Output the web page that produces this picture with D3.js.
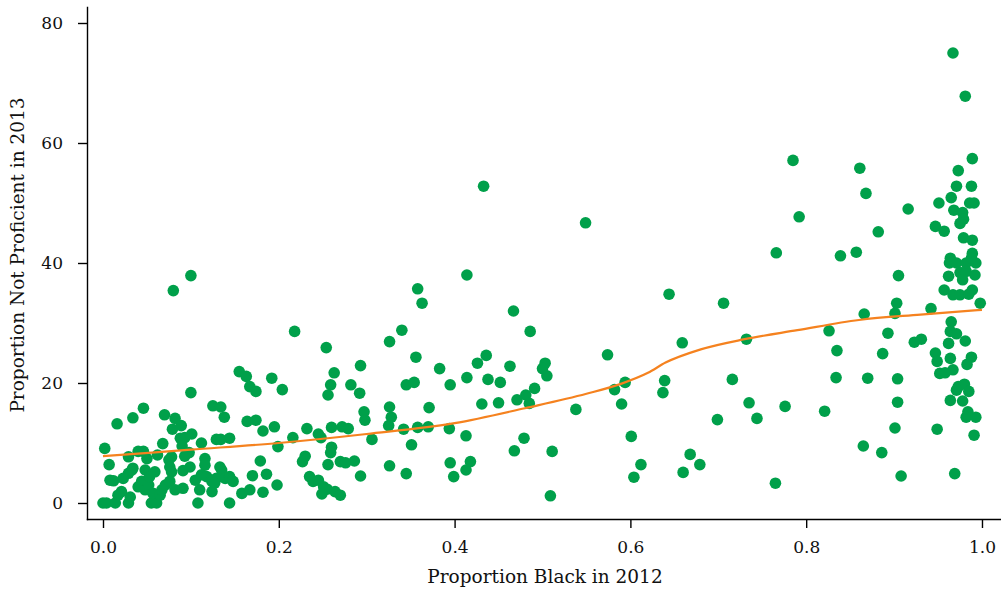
<!doctype html>
<html>
<head>
<style>
body {margin: 0; background: white;}
.axis text {font-family: 'DejaVu Serif', serif; font-size: 17px; fill: #111;}
.axis path, .axis line {stroke: #000; stroke-width: 1.4;}
</style>
<script src="https://d3js.org/d3.v7.min.js"></script>
</head>
<body>
<svg width="1001" height="589" class="chart"></svg>
<script>

// proportion black (2012) and proportion not proficient (2013), one school per index
var propBlack = [
  // mostly black schools
  0.967,0.981,0.989,0.785,0.861,0.973,0.868,0.971,0.988,0.965,
  0.986,0.991,0.951,0.916,0.968,0.978,0.979,0.975,0.792,0.947,
  0.957,0.882,0.979,0.989,0.839,0.857,0.766,0.989,0.964,0.963,
  0.971,0.982,0.993,0.988,0.975,0.982,0.992,0.962,0.978,0.905,
  0.957,0.967,0.975,0.985,0.989,0.998,0.903,0.901,0.942,0.866,
  0.965,0.826,0.893,0.964,0.971,0.923,0.931,0.962,0.981,0.835,
  0.887,0.947,0.949,0.964,0.988,0.983,0.967,0.952,0.958,0.834,
  0.870,0.904,0.973,0.980,0.985,0.971,0.964,0.978,0.904,0.821,
  0.984,0.982,0.993,0.991,0.901,0.949,0.865,0.886,0.908,0.969,
  0.776,0.765,
  // middle
  0.549,0.644,0.706,0.659,0.732,0.594,0.639,0.637,0.716,0.590,
  0.735,0.699,0.744,0.601,0.612,0.604,0.668,0.679,0.660,0.574,
  0.582,0.538,
  0.433,0.414,0.467,0.486,0.436,0.426,0.414,0.395,0.463,0.438,
  0.452,0.503,0.500,0.505,0.491,0.481,0.485,0.471,0.431,0.450,
  0.394,0.413,0.479,0.468,0.511,0.395,0.418,0.413,0.399,0.509,
  0.383,
  0.358,0.363,0.218,0.340,0.326,0.254,0.356,0.293,0.263,0.192,
  0.345,0.354,0.282,0.259,0.256,0.204,0.292,0.326,0.328,0.325,
  0.297,0.298,0.371,0.195,0.232,0.260,0.272,0.279,0.245,0.248,
  0.216,0.342,0.358,0.370,0.306,0.199,0.260,0.259,0.351,0.230,
  0.227,0.270,0.276,0.286,0.256,0.326,0.345,0.293,0.186,0.198,
  0.235,0.239,0.245,0.251,0.255,0.249,0.264,0.270,
  // mostly white schools
  0.100,0.080,0.155,0.163,0.167,0.174,0.100,0.125,0.134,0.046,
  0.138,0.070,0.082,0.034,0.016,0.164,0.174,0.089,0.079,0.182,
  0.101,0.093,0.088,0.129,0.134,0.144,0.112,0.068,0.002,0.090,
  0.040,0.046,0.062,0.098,0.093,0.029,0.078,0.075,0.116,0.050,
  0.179,0.007,0.116,0.133,0.099,0.091,0.034,0.029,0.048,0.059,
  0.170,0.076,0.078,0.033,0.023,
  0.008,0.012,0.000,0.004,0.014,0.021,0.017,0.029,0.031,0.040,
  0.044,0.048,0.052,0.053,0.055,0.061,0.057,0.065,0.067,0.071,
  0.076,0.082,0.091,0.108,0.110,0.105,0.112,0.118,0.124,0.129,
  0.135,0.124,0.127,0.139,0.144,0.148,0.144,0.158,0.167,0.182
];

var notProficient = [
  75,67.8,57.4,57.1,55.8,55.4,51.6,52.8,52.8,50.9,
  50,50,50,49,48.8,48.4,47.3,46.6,47.7,46.1,
  45.3,45.2,44.2,43.8,41.2,41.8,41.7,41.6,40.8,40,
  40,40,40,40.8,38.4,38.6,38,37.8,37.2,37.9,
  35.5,34.7,34.7,34.8,35.5,33.3,33.3,31.6,32.4,31.5,
  30.2,28.7,28.3,28.6,28.2,26.8,27.3,26.6,27,25.4,
  24.9,25,23.6,24.1,24.3,23.1,22.2,21.6,21.7,20.9,
  20.8,20.7,19.4,19.8,18.6,18.8,17.1,17,16.8,15.3,
  15.2,14.3,14.3,11.3,12.5,12.3,9.5,8.4,4.5,4.9,
  16.1,3.3,
  46.7,34.8,33.3,26.7,27.3,20.1,20.4,18.4,20.6,16.5,
  16.7,13.9,14.1,11.1,6.4,4.3,8.1,6.4,5.1,24.7,
  18.9,15.6,
  52.8,38,32,28.6,24.6,23.3,20.9,19.7,22.8,20.6,
  20.1,23.3,22.4,21.2,19.1,18,16.6,17.2,16.5,16.7,
  12.4,11.2,10.8,8.7,8.6,6.7,6.9,5.5,4.4,1.2,
  22.4,
  35.7,33.3,28.6,28.8,26.9,25.9,24.3,22.9,21.7,20.8,
  19.7,20.1,19.7,19.7,18,18.9,18.3,16,14.3,12.9,
  15.2,13.8,15.9,12.7,12.4,12.6,12.7,12.4,11.5,10.9,
  10.9,12.3,12.6,12.7,10.6,9.4,9.3,8.4,9.7,7.8,
  6.9,6.9,6.7,7,6.4,6.2,4.9,4.5,4.8,3,
  4.4,3.6,3.8,2.7,2.3,1.5,1.9,1.3,
  37.9,35.4,21.9,21.1,19.4,18.6,18.4,16.2,16,15.8,
  14.3,14.7,14.1,14.2,13.2,13.6,13.8,12.9,12.3,12,
  11.5,10.9,10.8,10.6,10.6,10.8,10,9.9,9.1,9.5,
  8.6,8.6,8,8.4,7.8,7.7,7.7,7.2,7.4,7.4,
  7,6.4,6.3,6,6,5.4,5.8,4.95,5.5,5.2,
  4.55,6,5.2,5.5,4.1,
  3.8,3.7,0,0,0,1.9,1.3,0,1,2.7,
  3.6,2.2,3,4.4,0,0,1.6,1.3,2.2,3,
  3.6,2.2,2.45,0,2.2,3.8,4.7,4.4,3.6,4.1,
  5.5,1.9,3.3,4.1,4.4,3.6,0,1.6,2.2,1.8
];

// smoothed trend
var smoothX = [0, 0.1, 0.2, 0.3, 0.4, 0.48, 0.55, 0.59, 0.62, 0.64, 0.68, 0.73, 0.79, 0.86, 0.93, 1.0];
var smoothY = [7.8, 8.9, 10.0, 11.5, 13.3, 15.8, 18.2, 19.9, 21.7, 23.4, 25.6, 27.3, 28.8, 30.5, 31.4, 32.2];

var xTicks = [0, 0.2, 0.4, 0.6, 0.8, 1.0];
var yTicks = [0, 20, 40, 60, 80];

var svg = d3.select(".chart");

var x = d3.scaleLinear().domain([-0.0182, 1.0205]).range([87, 1000]);
var y = d3.scaleLinear().domain([-2.667, 82.667]).range([519, 7]);

// points
svg.append("g")
  .selectAll("circle")
  .data(propBlack)
  .enter().append("circle")
  .attr("cx", function(d) { return x(d); })
  .attr("cy", function(d, i) { return y(notProficient[i]); })
  .attr("r", 5.8)
  .style("fill", "#00A04A");

// trend line
var line = d3.line()
  .x(function(d, i) { return x(d); })
  .y(function(d, i) { return y(smoothY[i]); })
  .curve(d3.curveMonotoneX);

svg.append("path")
  .datum(smoothX)
  .attr("d", line)
  .style("fill", "none")
  .style("stroke", "#F5821F")
  .style("stroke-width", 2.2);

// axes
svg.append("g")
  .attr("class", "axis")
  .attr("transform", "translate(0,519)")
  .call(d3.axisBottom(x).tickValues(xTicks).tickFormat(d3.format(".1f")).tickSize(9).tickSizeOuter(0).tickPadding(13));

svg.append("g")
  .attr("class", "axis")
  .attr("transform", "translate(87,0)")
  .call(d3.axisLeft(y).tickValues(yTicks).tickSize(9).tickSizeOuter(0).tickPadding(15));

svg.selectAll(".axis .domain").attr("stroke-linecap", "square");

// axis titles
svg.append("text")
  .attr("x", 545)
  .attr("y", 583)
  .attr("text-anchor", "middle")
  .style("font-family", "'DejaVu Serif', serif")
  .style("font-size", "18.5px")
  .style("fill", "#111")
  .text("Proportion Black in 2012");

svg.append("text")
  .attr("transform", "translate(24,255) rotate(-90)")
  .attr("text-anchor", "middle")
  .style("font-family", "'DejaVu Serif', serif")
  .style("font-size", "18.5px")
  .style("fill", "#111")
  .text("Proportion Not Proficient in 2013");

</script>
</body>
</html>
